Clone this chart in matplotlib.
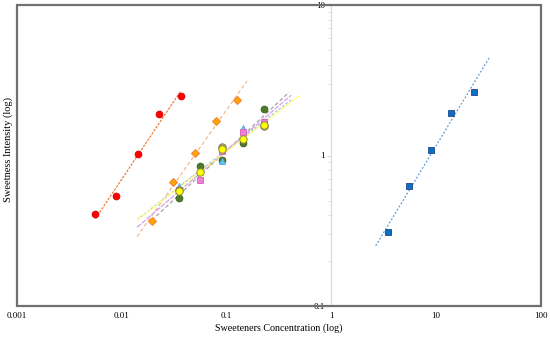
import numpy as np
import matplotlib
matplotlib.use("Agg")
import matplotlib.pyplot as plt
from matplotlib.patches import Rectangle
from matplotlib.ticker import LogLocator, NullFormatter, FixedLocator, FixedFormatter

plt.rcParams['font.family'] = ['Liberation Serif', 'DejaVu Serif']

# ---- data (concentration, intensity) ----
red_x = [0.0056, 0.0089, 0.0143, 0.0228, 0.0365]
red_y = [0.406, 0.535, 1.03, 1.88, 2.49]

orange_x = [0.0193, 0.0306, 0.0496, 0.0792, 0.1257]
orange_y = [0.369, 0.664, 1.04, 1.69, 2.34]

green_x = [0.0352, 0.0557, 0.0898, 0.1443, 0.2275]
green_y = [0.522, 0.858, 0.940, 1.202, 2.027]

cyan_x = [0.0352, 0.0898, 0.1443, 0.2275]
cyan_y = [0.631, 0.916, 1.53, 1.61]

pink_x = [0.0352, 0.0557, 0.0898, 0.1443, 0.2275]
pink_y = [0.593, 0.692, 1.075, 1.43, 1.667]

yellow_x = [0.0352, 0.0557, 0.0898, 0.1443, 0.2275]
yellow_y = [0.584, 0.779, 1.108, 1.279, 1.585]

gray_x = [0.0352, 0.0898, 0.2275]
gray_y = [0.593, 1.131, 1.56]

blue_x = [3.49, 5.54, 8.87, 13.8, 22.8]
blue_y = [0.31, 0.624, 1.08, 1.91, 2.63]

x_ticks = [0.001, 0.01, 0.1, 1, 10, 100]
x_tick_labels = ['0.001', '0.01', '0.1', '1', '10', '100']
y_ticks = [0.1, 1, 10]
y_tick_labels = ['0.1', '1', '10']

x_label = 'Sweeteners Concentration (log)'
y_label = 'Sweetness Intensity (log)'

# ---- styles ----
series = [
    # x, y, marker, face, edge, size, line color, linestyle, back ext (dec), fwd ext (dec)
    (red_x, red_y, 'o', '#FF0000', '#E00000', 4.8, '#EE8040', (0, (2, 1)), 0.0, 0.0),
    (orange_x, orange_y, 'D', '#FFA500', '#F4803A', 4.0, '#F8B98A', (0, (3, 2)), 0.14, 0.095),
    (green_x, green_y, 'o', '#4E7A2A', '#3E6420', 4.8, '#A5A5A5', (0, (3, 2)), 0.26, 0.24),
    (cyan_x, cyan_y, '^', '#5BC8F0', '#5AB0E0', 4.8, '#9DC3E6', (0, (2, 1.5)), 0.4, 0.26),
    (pink_x, pink_y, 's', '#EE7FD8', '#D86CC4', 4.3, '#D9A0E8', (0, (4, 1)), 0.4, 0.26),
    (gray_x, gray_y, 'o', '#B0A090', '#7F7F3F', 5.3, '#C8C8C8', (0, (1, 1)), 0.0, 0.0),
    (yellow_x, yellow_y, 'o', '#FFFF00', '#8F8F3F', 5.3, '#FFFF70', (0, (4, 1)), 0.4, 0.34),
    (blue_x, blue_y, 's', '#0A6FC2', '#2F5597', 4.8, '#5B9BD5', (0, (1.5, 1.5)), 0.12, 0.15),
]

fig = plt.figure(figsize=(5.5, 3.39), dpi=100)
ax = fig.add_axes([17 / 550, 1 - 306 / 339, 524 / 550, 301 / 339])
ax.set_xscale('log')
ax.set_yscale('log')
ax.set_xlim(x_ticks[0], x_ticks[-1])
ax.set_ylim(y_ticks[0], y_ticks[-1])

for i, (xs, ys, mk, fc, ec, ms, lc, ls, back, fwd) in enumerate(series):
    lx = np.log10(xs)
    ly = np.log10(ys)
    b, a = np.polyfit(lx, ly, 1)
    xr = np.linspace(lx.min() - back, lx.max() + fwd, 50)
    ax.plot(10 ** xr, 10 ** (a + b * xr), color=lc, lw=0.9, linestyle=ls, zorder=2)
for i, (xs, ys, mk, fc, ec, ms, lc, ls, back, fwd) in enumerate(series):
    ax.plot(xs, ys, linestyle='none', marker=mk, markersize=ms,
            markerfacecolor=fc, markeredgecolor=ec, markeredgewidth=0.7, zorder=5)

# y axis drawn at x = 1
for s in ['top', 'right', 'bottom']:
    ax.spines[s].set_visible(False)
ax.spines['left'].set_position(('data', 1))
ax.spines['left'].set_color('#D9D9D9')
ax.spines['left'].set_linewidth(0.8)
ax.yaxis.set_major_locator(FixedLocator(y_ticks))
ax.yaxis.set_major_formatter(FixedFormatter(y_tick_labels))
ax.yaxis.set_minor_locator(LogLocator(base=10, subs=np.arange(2, 10)))
ax.yaxis.set_minor_formatter(NullFormatter())
ax.tick_params(axis='y', which='major', length=3, color='#D9D9D9', labelsize=6.5, pad=1.5)
ax.tick_params(axis='y', which='minor', length=2, color='#D9D9D9')

ax.xaxis.set_major_locator(FixedLocator(x_ticks))
ax.xaxis.set_major_formatter(FixedFormatter(x_tick_labels))
ax.xaxis.set_minor_locator(LogLocator(base=10, subs=np.arange(2, 10)))
ax.xaxis.set_minor_formatter(NullFormatter())
ax.tick_params(axis='x', which='major', length=0, labelsize=6.5, pad=4)
ax.tick_params(axis='x', which='minor', length=0)

frame = Rectangle((0, 0), 1, 1, transform=ax.transAxes, fill=False,
                  edgecolor='#707070', linewidth=1.6, clip_on=False, zorder=10)
ax.add_patch(frame)

fig.text(279 / 550, 1 - 328 / 339, x_label, ha='center', va='center', fontsize=7.2)
fig.text(8 / 550, 1 - 150 / 339, y_label, ha='center', va='center', rotation=90, fontsize=7.5)

fig.savefig('out.png', dpi=100)
